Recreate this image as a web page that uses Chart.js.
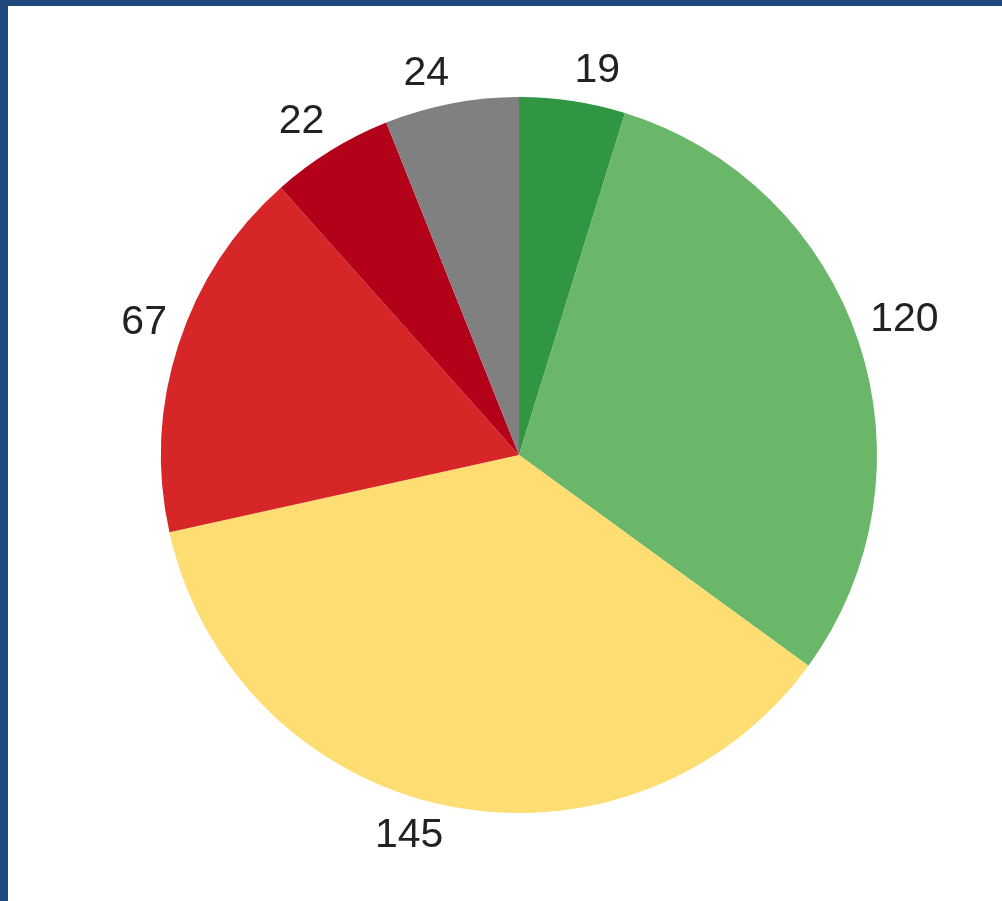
<!DOCTYPE html>
<html>
<head>
<meta charset="utf-8">
<style>
  html, body { margin: 0; padding: 0; background: #1f497d; width: 1002px; height: 901px; overflow: hidden; }
  #frame { position: absolute; left: 8px; top: 6px; width: 994px; height: 895px; background: #ffffff; }
  canvas { display: block; }
</style>
<script src="https://cdn.jsdelivr.net/npm/chart.js@4"></script>
</head>
<body>
<div id="frame"><canvas id="pieChart" width="994" height="895"></canvas></div>
<script>
// slice values, clockwise from 12 o'clock
const categories = ["A", "B", "C", "D", "E", "F"];
const sliceValues = [19, 120, 145, 67, 22, 24];
const sliceColors = ["#309641", "#6bb76a", "#fedd72", "#d72628", "#b3011a", "#808080"];

const LABEL_GAP = 12;
const LABEL_PAD_Y = 7;
const LABEL_SIZE = 41;

// value labels outside the pie: the corner of the text nearest the pie
// sits on the slice's middle direction, a little past the rim
const outsideLabels = {
  id: "outsideLabels",
  afterDatasetsDraw(chart) {
    const ctx = chart.ctx;
    const meta = chart.getDatasetMeta(0);
    ctx.save();
    ctx.font = LABEL_SIZE + "px 'Liberation Sans', Arial, sans-serif";
    ctx.fillStyle = "#222222";
    ctx.textBaseline = "alphabetic";
    const capHeight = LABEL_SIZE * 0.72;
    meta.data.forEach(function (arc, i) {
      const mid = (arc.startAngle + arc.endAngle) / 2;
      const dx = Math.cos(mid);
      const dy = Math.sin(mid);
      const r = arc.outerRadius + LABEL_GAP;
      const px = arc.x + dx * r;
      const py = arc.y + dy * r;
      ctx.textAlign = dx >= 0 ? "left" : "right";
      const y = dy <= 0 ? py - LABEL_PAD_Y : py + capHeight;
      ctx.fillText(String(sliceValues[i]), px, y);
    });
    ctx.restore();
  }
};

const ctx = document.getElementById("pieChart").getContext("2d");

new Chart(ctx, {
  type: "pie",
  data: {
    labels: categories,
    datasets: [
      {
        data: sliceValues,
        backgroundColor: sliceColors,
        borderWidth: 0,
        hoverOffset: 0
      }
    ]
  },
  options: {
    responsive: false,
    animation: false,
    layout: {
      padding: { left: 153, right: 125, top: 91, bottom: 88 }
    },
    plugins: {
      legend: { display: false },
      tooltip: { enabled: false }
    }
  },
  plugins: [outsideLabels]
});
</script>
</body>
</html>
